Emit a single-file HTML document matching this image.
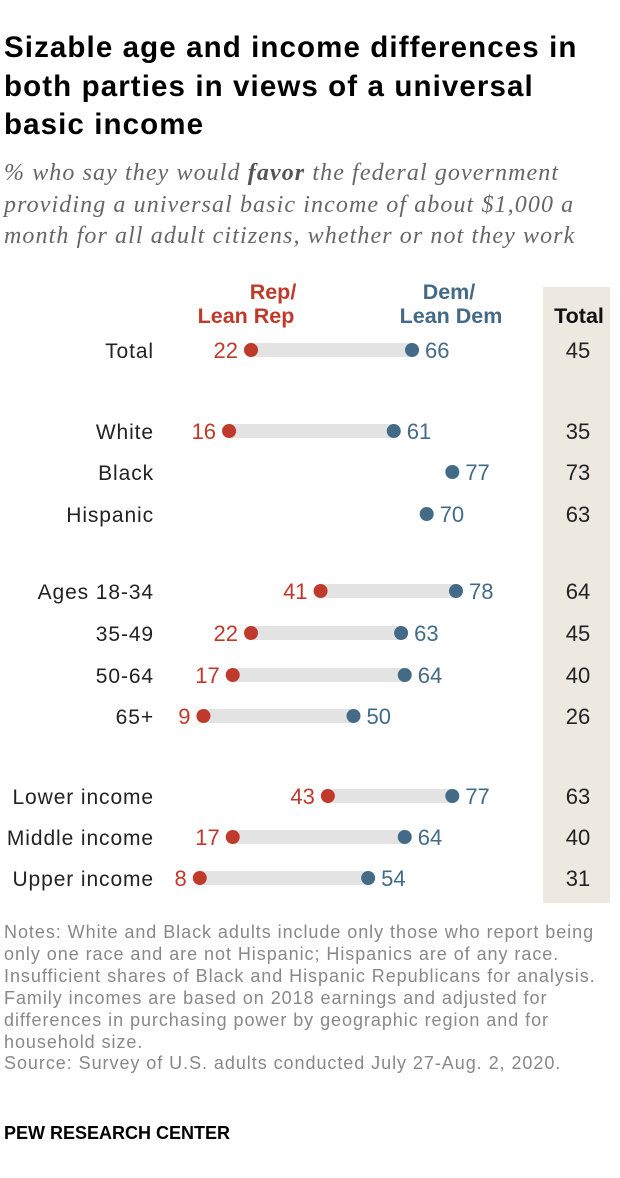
<!DOCTYPE html>
<html><head><meta charset="utf-8"><style>
body{margin:0;background:#fff;width:620px;height:1178px;overflow:hidden;font-family:"Liberation Sans",sans-serif;}
#title{position:absolute;left:4px;top:29px;font-size:29.5px;font-weight:bold;line-height:38.5px;color:#000;margin:0;width:616px;letter-spacing:1.1px;white-space:nowrap}
#sub{position:absolute;left:4px;top:158px;font-family:"Liberation Serif",serif;font-style:italic;font-size:24px;line-height:31.5px;color:#666;width:616px;letter-spacing:1.1px;white-space:nowrap}
#notes{position:absolute;left:4px;top:922px;font-size:18px;line-height:21.9px;color:#888;width:616px;white-space:nowrap;letter-spacing:0.95px}
#brand{position:absolute;left:4px;top:1123px;font-size:18px;font-weight:bold;color:#000}
svg{position:absolute;left:0;top:0}
</style></head><body>
<h1 id="title">Sizable age and income differences in<br>both parties in views of a universal<br>basic income</h1>
<div id="sub">% who say they would <b style="color:#555">favor</b> the federal government<br>providing a universal basic income of about $1,000 a<br>month for all adult citizens, whether or not they work</div>
<svg id="chart" width="620" height="1178"></svg>
<div id="notes">Notes: White and Black adults include only those who report being<br>only one race and are not Hispanic; Hispanics are of any race.<br>Insufficient shares of Black and Hispanic Republicans for analysis.<br>Family incomes are based on 2018 earnings and adjusted for<br>differences in purchasing power by geographic region and for<br>household size.<br>Source: Survey of U.S. adults conducted July 27-Aug. 2, 2020.</div>
<div id="brand">PEW RESEARCH CENTER</div>
<script>
const categories=["Total","White","Black","Hispanic","Ages 18-34","35-49","50-64","65+","Lower income","Middle income","Upper income"];
const repValues=[22,16,null,null,41,22,17,9,43,17,8];
const demValues=[66,61,77,70,78,63,64,50,77,64,54];
const totalValues=[45,35,73,63,64,45,40,26,63,40,31];
const rowY=[350,431,472,514,591,633,675,716,796,837,878];
const NS="http://www.w3.org/2000/svg";
const svg=document.getElementById('chart');
const x=v=>170.5+v*3.66;
const RED="#bf3a2b",BLUE="#436a87";
function mk(tag,attrs,txt){const e=document.createElementNS(NS,tag);for(const k in attrs)e.setAttribute(k,attrs[k]);if(txt!=null)e.textContent=txt;svg.appendChild(e);return e;}
const bg=mk('rect',{x:543,y:287,width:67,height:616,fill:"#ede9e1"});


const hdr=[["Rep/",273,299,RED],["Lean Rep",246,323,RED],["Dem/",449,299,BLUE],["Lean Dem",451,323,BLUE]];
hdr.forEach(h=>{const t=mk('text',{x:h[1],y:h[2],fill:h[3],"font-size":21.5,"font-weight":"bold","text-anchor":"middle"},h[0]);

});
const th=mk('text',{x:579,y:323,fill:"#111","font-size":21.5,"font-weight":"bold","text-anchor":"middle"},"Total");


categories.forEach((c,i)=>{
 const y=rowY[i];
 const lab=mk('text',{x:154,y:y+8,fill:"#222","font-size":21,"letter-spacing":"0.9","text-anchor":"end"},c);
 
 
 const r=repValues[i],d=demValues[i];
 if(r!=null){
  const bar=mk('rect',{x:x(r),y:y-7,width:x(d)-x(r),height:14,fill:"#e3e3e3"});
  
  
  const dot=mk('circle',{cx:x(r),cy:y,r:7,fill:RED});
  
  
  const rl=mk('text',{x:x(r)-13,y:y+8,fill:RED,"font-size":22,"text-anchor":"end"},r);
  
  
 }
 const dd=mk('circle',{cx:x(d),cy:y,r:7,fill:BLUE});
 
 
 const dl=mk('text',{x:x(d)+13,y:y+8,fill:BLUE,"font-size":22},d);
 
 
 const tl=mk('text',{x:578,y:y+8,fill:"#222","font-size":22,"text-anchor":"middle"},totalValues[i]);
 
 
});
</script>
</body></html>
